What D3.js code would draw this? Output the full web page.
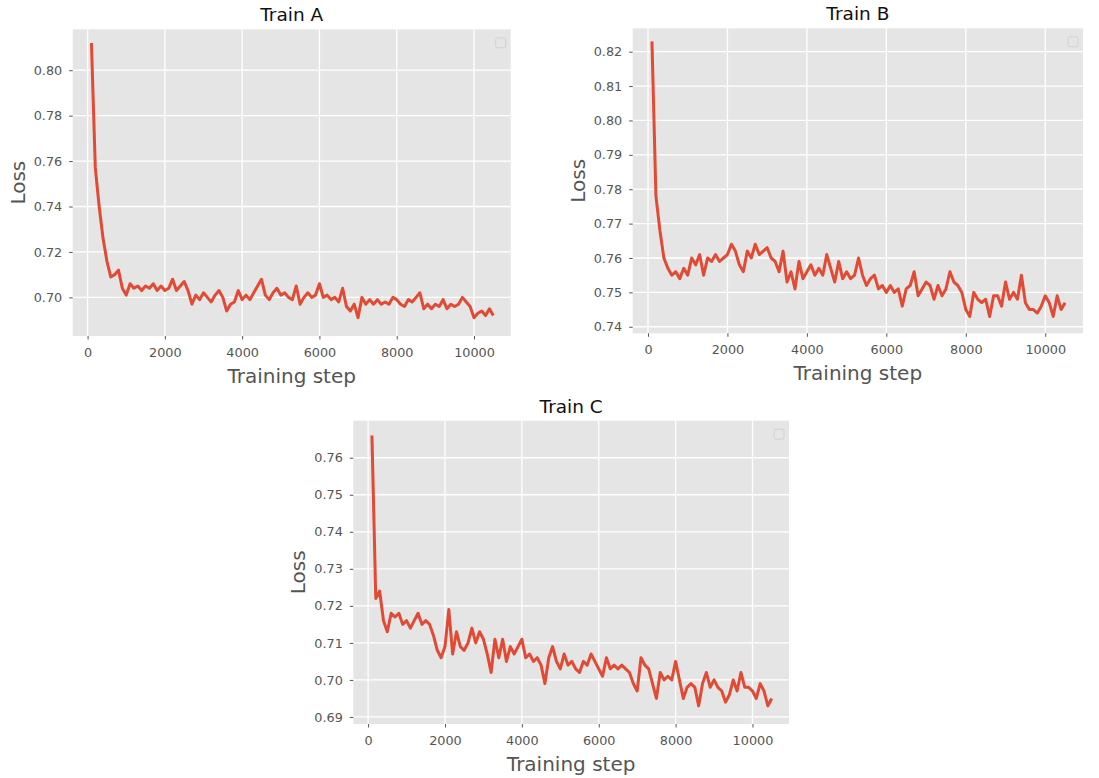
<!DOCTYPE html>
<html>
<head>
<meta charset="utf-8">
<script src="https://cdn.jsdelivr.net/npm/d3@7"></script>
<style>
  body { margin: 0; background: #fff; }
  text { font-family: "DejaVu Sans", sans-serif; }
</style>
</head>
<body>
<div id="my_dataviz"></div>
<script>
// training steps logged every 100 steps
var steps = d3.range(100, 10600, 100)

var lossA = [0.812, 0.757, 0.740, 0.726, 0.716, 0.709, 0.710, 0.712, 0.704, 0.701,
  0.706, 0.704, 0.705, 0.703, 0.705, 0.704, 0.706, 0.703, 0.705, 0.703,
  0.704, 0.708, 0.703, 0.705, 0.707, 0.703, 0.697, 0.701, 0.699, 0.702,
  0.700, 0.698, 0.701, 0.703, 0.700, 0.694, 0.697, 0.698, 0.703, 0.699,
  0.701, 0.699, 0.702, 0.705, 0.708, 0.701, 0.699, 0.702, 0.704, 0.701,
  0.702, 0.700, 0.699, 0.705, 0.697, 0.700, 0.702, 0.700, 0.701, 0.706,
  0.700, 0.701, 0.699, 0.700, 0.698, 0.704, 0.696, 0.694, 0.697, 0.691,
  0.700, 0.697, 0.699, 0.697, 0.699, 0.697, 0.698, 0.697, 0.700, 0.699,
  0.697, 0.696, 0.699, 0.698, 0.700, 0.702, 0.695, 0.697, 0.695, 0.697,
  0.696, 0.699, 0.695, 0.697, 0.696, 0.697, 0.700, 0.698, 0.696, 0.691,
  0.693, 0.694, 0.692, 0.695, 0.692]

var lossB = [0.823, 0.778, 0.768, 0.760, 0.757, 0.755, 0.756, 0.754, 0.757, 0.755,
  0.760, 0.758, 0.761, 0.755, 0.760, 0.759, 0.761, 0.759, 0.760, 0.761,
  0.764, 0.762, 0.758, 0.756, 0.762, 0.760, 0.764, 0.761, 0.762, 0.763,
  0.760, 0.759, 0.756, 0.762, 0.753, 0.756, 0.751, 0.759, 0.754, 0.756,
  0.758, 0.755, 0.757, 0.755, 0.761, 0.757, 0.753, 0.759, 0.754, 0.756,
  0.754, 0.755, 0.760, 0.755, 0.752, 0.754, 0.755, 0.751, 0.752, 0.750,
  0.752, 0.750, 0.751, 0.746, 0.751, 0.752, 0.756, 0.749, 0.751, 0.753,
  0.752, 0.748, 0.752, 0.749, 0.751, 0.756, 0.753, 0.752, 0.750, 0.745,
  0.743, 0.750, 0.748, 0.747, 0.748, 0.743, 0.749, 0.749, 0.746, 0.753,
  0.748, 0.750, 0.748, 0.755, 0.747, 0.745, 0.745, 0.744, 0.746, 0.749,
  0.747, 0.743, 0.749, 0.745, 0.747]

var lossC = [0.766, 0.722, 0.724, 0.716, 0.713, 0.718, 0.717, 0.718, 0.715, 0.716,
  0.714, 0.716, 0.718, 0.715, 0.716, 0.715, 0.712, 0.708, 0.706, 0.709,
  0.719, 0.707, 0.713, 0.709, 0.708, 0.710, 0.714, 0.710, 0.713, 0.711,
  0.707, 0.702, 0.711, 0.706, 0.711, 0.705, 0.709, 0.707, 0.709, 0.711,
  0.706, 0.707, 0.705, 0.706, 0.704, 0.699, 0.706, 0.709, 0.705, 0.703,
  0.707, 0.704, 0.705, 0.703, 0.702, 0.705, 0.704, 0.707, 0.705, 0.703,
  0.701, 0.706, 0.703, 0.704, 0.703, 0.704, 0.703, 0.702, 0.699, 0.697,
  0.706, 0.704, 0.703, 0.699, 0.695, 0.702, 0.700, 0.701, 0.700, 0.705,
  0.700, 0.695, 0.698, 0.699, 0.698, 0.693, 0.699, 0.702, 0.698, 0.700,
  0.698, 0.697, 0.694, 0.696, 0.700, 0.697, 0.702, 0.698, 0.698, 0.697,
  0.695, 0.699, 0.697, 0.693, 0.695]

var xTicks = [0, 2000, 4000, 6000, 8000, 10000]
var yTicksA = [0.70, 0.72, 0.74, 0.76, 0.78, 0.80]
var yTicksB = [0.74, 0.75, 0.76, 0.77, 0.78, 0.79, 0.80, 0.81, 0.82]
var yTicksC = [0.69, 0.70, 0.71, 0.72, 0.73, 0.74, 0.75, 0.76]

var lineColor = "#E24A33"
var svg = d3.select("#my_dataviz").append("svg").attr("width", 1099).attr("height", 778)

function drawPanel(title, values, yTicks, yDomain, left, top, w, h) {
  var xs = d3.scaleLinear().domain([-385, 10950]).range([0, w])
  var ys = d3.scaleLinear().domain(yDomain).range([h, 0])

  var g = svg.append("g").attr("transform", "translate(" + left + "," + top + ")")

  g.append("rect").attr("width", w).attr("height", h).attr("fill", "#E5E5E5")

  // grid
  g.append("g").selectAll("line").data(xTicks).enter().append("line")
    .attr("x1", d => xs(d)).attr("x2", d => xs(d)).attr("y1", 0).attr("y2", h)
    .attr("stroke", "#fff").attr("stroke-width", 1.3)
  g.append("g").selectAll("line").data(yTicks).enter().append("line")
    .attr("x1", 0).attr("x2", w).attr("y1", d => ys(d)).attr("y2", d => ys(d))
    .attr("stroke", "#fff").attr("stroke-width", 1.3)

  // axes
  var xAxis = g.append("g").attr("transform", "translate(0," + h + ")")
    .call(d3.axisBottom(xs).tickValues(xTicks).tickSize(3.5).tickPadding(8).tickFormat(d3.format("d")))
  var yAxis = g.append("g")
    .call(d3.axisLeft(ys).tickValues(yTicks).tickSize(3.5).tickPadding(7).tickFormat(d3.format(".2f")))
  ;[xAxis, yAxis].forEach(function (a) {
    a.select(".domain").remove()
    a.selectAll("line").attr("stroke", "#555")
    a.selectAll("text").attr("fill", "#555").style("font-size", "12.8px")
  })

  var line = d3.line().x((d, i) => xs(steps[i])).y(d => ys(d))
  g.append("path").datum(values).attr("d", line)
    .attr("fill", "none").attr("stroke", lineColor).attr("stroke-width", 3)
    .attr("stroke-linejoin", "round")

  // empty legend box
  g.append("rect").attr("x", w - 15).attr("y", 8.5).attr("width", 10).attr("height", 10).attr("rx", 2)
    .attr("fill", "#E5E5E5").attr("stroke", "#d2d2d2").attr("stroke-width", 1)

  g.append("text").attr("x", w / 2).attr("y", -8).attr("text-anchor", "middle")
    .attr("fill", "#111").style("font-size", "18.5px").text(title)
  g.append("text").attr("x", w / 2).attr("y", h + 47).attr("text-anchor", "middle")
    .attr("fill", "#555").style("font-size", "20px").text("Training step")
  g.append("text").attr("transform", "translate(-48," + (h / 2) + ") rotate(-90)")
    .attr("text-anchor", "middle").attr("fill", "#555").style("font-size", "20px").text("Loss")
}

drawPanel("Train A", lossA, yTicksA, [0.683, 0.818], 72.7, 29.3, 438, 306.7)
drawPanel("Train B", lossB, yTicksB, [0.7381, 0.8268], 632.7, 28.3, 450.3, 305)
drawPanel("Train C", lossC, yTicksC, [0.6881, 0.7700], 353.3, 420.7, 435.7, 303.3)
</script>
</body>
</html>
